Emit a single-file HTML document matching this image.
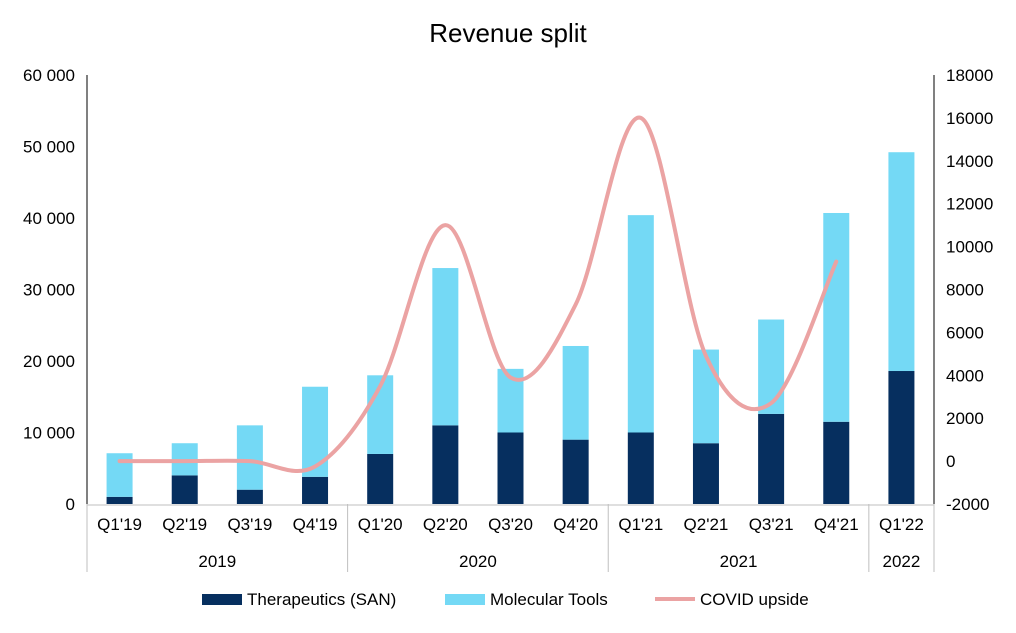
<!DOCTYPE html>
<html><head><meta charset="utf-8"><style>
body{margin:0;background:#fff;font-family:"Liberation Sans",Arial,sans-serif}
svg text{font-family:"Liberation Sans",Arial,sans-serif;fill:#000}
</style></head><body>
<svg id="c" width="1016" height="628">
<text x="508" y="42" font-size="26" text-anchor="middle">Revenue split</text>
<g id="g"></g>
</svg>
<script>
const categories=["Q1'19","Q2'19","Q3'19","Q4'19","Q1'20","Q2'20","Q3'20","Q4'20","Q1'21","Q2'21","Q3'21","Q4'21","Q1'22"];
const years=["2019","2020","2021","2022"];
const yearCounts=[4,4,4,1];
const therapeutics=[1000,4000,2000,3800,7000,11000,10000,9000,10000,8500,12600,11500,18600];
const molecular=[6100,4500,9000,12600,11000,22000,8900,13100,30400,13100,13200,29200,30600];
const covid=[0,0,0,-250,3500,11000,3900,7300,16000,4900,2700,9300];
const leftTicks=[0,10000,20000,30000,40000,50000,60000];
const rightTicks=[-2000,0,2000,4000,6000,8000,10000,12000,14000,16000,18000];
const NS="http://www.w3.org/2000/svg",g=document.getElementById('g');
const X0=87,X1=934,Y0=504,YT=75,step=(X1-X0)/categories.length;
const yL=v=>Y0-(v/60000)*(Y0-YT);
const yR=v=>Y0-((v+2000)/20000)*(Y0-YT);
const xc=i=>X0+step*(i+0.5);
function mk(t,a,txt){const e=document.createElementNS(NS,t);for(const k in a)e.setAttribute(k,a[k]);if(txt!=null)e.textContent=txt;g.appendChild(e);return e;}
leftTicks.forEach(v=>{const t=mk('text',{x:X0-12,y:yL(v)+6,'font-size':17,'text-anchor':'end'},v===0?'0':(v/1000)+' 000');
});
rightTicks.forEach(v=>{const t=mk('text',{x:X1+12,y:yR(v)+6,'font-size':17},String(v));
});
categories.forEach((c,i)=>{
const b1=mk('rect',{x:xc(i)-13,y:yL(therapeutics[i]),width:26,height:Y0-yL(therapeutics[i]),fill:'#062f5f'});

const tot=therapeutics[i]+molecular[i];
const b2=mk('rect',{x:xc(i)-13,y:yL(tot),width:26,height:yL(therapeutics[i])-yL(tot),fill:'#74d9f5'});

const t=mk('text',{x:xc(i),y:530,'font-size':17,'text-anchor':'middle'},c);

});
mk('line',{x1:X1,x2:X1,y1:Y0,y2:572,stroke:'#bfbfbf'});
let k=0;years.forEach((y,j)=>{
const xs=X0+step*k,xe=X0+step*(k+yearCounts[j]);
mk('line',{x1:xs,x2:xs,y1:Y0,y2:572,stroke:'#bfbfbf'});
const t=mk('text',{x:(xs+xe)/2,y:567,'font-size':17,'text-anchor':'middle'},y);

k+=yearCounts[j];});
mk('line',{x1:X0,x2:X1,y1:Y0+1,y2:Y0+1,stroke:'#bfbfbf'});
mk('line',{x1:X0,x2:X0,y1:YT,y2:Y0,stroke:'#000'});
mk('line',{x1:X1,x2:X1,y1:YT,y2:Y0,stroke:'#000'});
const P=covid.map((v,i)=>[xc(i),yR(v)]);
let d='M'+P[0][0]+','+P[0][1];
for(let i=0;i<P.length-1;i++){const p0=P[Math.max(i-1,0)],p1=P[i],p2=P[i+1],p3=P[Math.min(i+2,P.length-1)];
d+=` C${p1[0]+(p2[0]-p0[0])/6},${p1[1]+(p2[1]-p0[1])/6} ${p2[0]-(p3[0]-p1[0])/6},${p2[1]-(p3[1]-p1[1])/6} ${p2[0]},${p2[1]}`;}
const ln=mk('path',{d:d,fill:'none',stroke:'#eba3a3','stroke-width':4,'stroke-linecap':'round'});

[[202,'rect','#062f5f','Therapeutics (SAN)'],[445,'rect','#74d9f5','Molecular Tools'],[655,'line','#eba3a3','COVID upside']].forEach(([x,t,c,l])=>{
if(t==='rect')mk('rect',{x:x,y:594,width:40,height:11,fill:c});else mk('line',{x1:x,x2:x+40,y1:599,y2:599,stroke:c,'stroke-width':4});
const tx=mk('text',{x:x+45,y:605,'font-size':17},l);
});
</script>
</body></html>
